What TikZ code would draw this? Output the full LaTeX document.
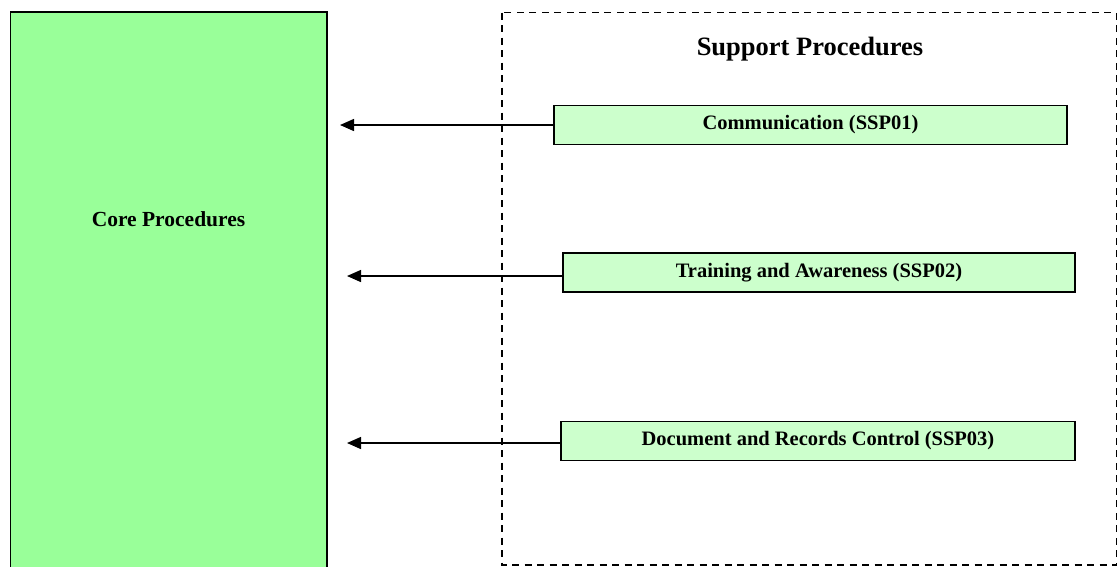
\documentclass[tikz,border=0pt]{standalone}
\usepackage{fontspec}
\setmainfont{Liberation Serif}
\usetikzlibrary{arrows.meta}
\definecolor{coregreen}{HTML}{99FF99}
\definecolor{supgreen}{HTML}{CCFFCC}
\begin{document}
\begin{tikzpicture}[x=1pt,y=-1pt,
  corebox/.style={draw=black,line width=1.5pt,fill=coregreen},
  supbox/.style={draw=black,line width=1.6pt,fill=supgreen,minimum height=39pt,inner sep=0pt,font=\fontsize{20.5}{24}\selectfont\bfseries},
  conn/.style={line width=1.4pt,-{Triangle[length=14pt,width=12pt]}},
  frame/.style={draw=black,line width=1.8pt,dash pattern=on 7pt off 5.5pt}]
\useasboundingbox (0,0) rectangle (1118,566);
\draw[corebox] (10.5,12) rectangle (327,575);
\node[font=\fontsize{21.5}{24}\selectfont\bfseries] (core) at (168.5,219) {Core Procedures};
\draw[frame] (502,12.5) rectangle (1116.5,565);
\node[font=\fontsize{26.5}{30}\selectfont\bfseries] (sup) at (810,49) {Support Procedures};
\node[supbox,minimum width=513pt] (b1) at (810.5,125) {Communication (SSP01)};
\node[supbox,minimum width=512pt] (b2) at (819,272.5) {Training and Awareness (SSP02)};
\node[supbox,minimum width=514pt] (b3) at (818,441) {Document and Records Control (SSP03)};
\coordinate (e1) at (340,125);
\coordinate (e2) at (347,276);
\coordinate (e3) at (347,443);
\draw[conn] (b1.west) -- (e1);
\draw[conn] (b2.west |- e2) -- (e2);
\draw[conn] (b3.west |- e3) -- (e3);
\end{tikzpicture}
\end{document}
